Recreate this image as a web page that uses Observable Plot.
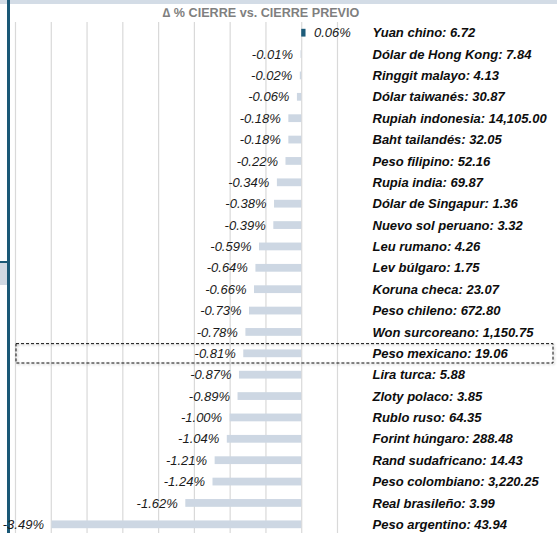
<!DOCTYPE html>
<html><head><meta charset="utf-8">
<script src="https://cdn.jsdelivr.net/npm/d3@7"></script>
<script src="https://cdn.jsdelivr.net/npm/@observablehq/plot@0.6"></script>
<style>
body{margin:0;background:#fff;overflow:hidden;font-family:"Liberation Sans",Arial,sans-serif}
#wrap{position:relative;width:557px;height:533px;overflow:hidden}
#title{position:relative;height:20px;line-height:26px;width:522px;text-align:center;font-weight:bold;font-size:12.6px;color:#7f7f7f}
.deco{position:absolute}
#chart{position:relative}
</style></head><body>
<div id="wrap">
<div class="deco" style="left:0;top:0;width:557px;height:4px;background:#d3dce6"></div>
<div class="deco" style="left:7px;top:0;width:3px;height:533px;background:#1a5876"></div>
<div class="deco" style="left:0;top:261px;width:7px;height:24px;background:#d0d9e3;border-top:2px solid #1a5876;box-sizing:border-box"></div>
<div id="title">∆ % CIERRE vs. CIERRE PREVIO</div>
<div id="chart"></div>
</div>
<script>
const currencies = ["Yuan chino","Dólar de Hong Kong","Ringgit malayo","Dólar taiwanés","Rupiah indonesia","Baht tailandés","Peso filipino","Rupia india","Dólar de Singapur","Nuevo sol peruano","Leu rumano","Lev búlgaro","Koruna checa","Peso chileno","Won surcoreano","Peso mexicano","Lira turca","Zloty polaco","Rublo ruso","Forint húngaro","Rand sudafricano","Peso colombiano","Real brasileño","Peso argentino"];
const rates = [6.72,7.84,4.13,30.87,14105.00,32.05,52.16,69.87,1.36,3.32,4.26,1.75,23.07,672.80,1150.75,19.06,5.88,3.85,64.35,288.48,14.43,3220.25,3.99,43.94];
const changes = [0.06,-0.01,-0.02,-0.06,-0.18,-0.18,-0.22,-0.34,-0.38,-0.39,-0.59,-0.64,-0.66,-0.73,-0.78,-0.81,-0.87,-0.89,-1.00,-1.04,-1.21,-1.24,-1.62,-3.49];
const gridTicks = [-4,-3.5,-3,-2.5,-2,-1.5,-1,-0.5,0,0.5];
const highlight = "Peso mexicano";

const data = currencies.map((c,i)=>({currency:c, rate:rates[i], change:changes[i]}));
const fmtPct = v => v.toFixed(2) + "%";
const fmtRate = d3.format(",.2f");

const highlightBox = (index, scales, values, dims) => {
  const y0 = scales.y(highlight);
  const step = scales.y(currencies[1]) - scales.y(currencies[0]);
  return d3.create("svg:rect")
    .attr("x", dims.marginLeft + 1)
    .attr("y", y0 + 1)
    .attr("width", dims.width - dims.marginLeft - 5)
    .attr("height", step - 2)
    .attr("fill", "none")
    .attr("stroke", "#111")
    .attr("stroke-width", 1)
    .attr("stroke-dasharray", "3,2")
    .style("filter", "drop-shadow(1px 1px 1px rgba(0,0,0,0.35))")
    .node();
};

const plot = Plot.plot({
  width: 557, height: 515,
  marginTop: 2, marginBottom: 0, marginLeft: 15, marginRight: 220,
  x: {domain: [-4, 0.5], axis: null},
  y: {domain: currencies, axis: null, padding: 0, round: false},
  style: {background: "transparent", fontFamily: "'Liberation Sans', Arial, sans-serif"},
  marks: [
    Plot.ruleX(gridTicks, {stroke: "#d9d9d9", strokeWidth: 1.2, strokeOpacity: 1}),
    Plot.barX(data, {filter: d => d.change < 0, x: "change", y: "currency", fill: "#cdd7e3", insetTop: 6.8, insetBottom: 6.8}),
    Plot.barX(data, {filter: d => d.change >= 0, x: "change", y: "currency", fill: "#1d5c7a", insetTop: 6.8, insetBottom: 6.8}),
    Plot.text(data, {filter: d => d.change < 0, x: "change", y: "currency", text: d => fmtPct(d.change), textAnchor: "end", dx: -8, fontStyle: "italic", fontSize: 13, fill: "#1a1a1a"}),
    Plot.text(data, {filter: d => d.change >= 0, x: "change", y: "currency", text: d => fmtPct(d.change), textAnchor: "start", dx: 8, fontStyle: "italic", fontSize: 13, fill: "#1a1a1a"}),
    Plot.text(data, {y: "currency", text: d => `${d.currency}: ${fmtRate(d.rate)}`, frameAnchor: "right", textAnchor: "start", dx: 35, fontWeight: "bold", fontStyle: "italic", fontSize: 13, fill: "#0d0d0d"}),
    highlightBox
  ]
});
document.getElementById("chart").appendChild(plot);
</script>
</body></html>
